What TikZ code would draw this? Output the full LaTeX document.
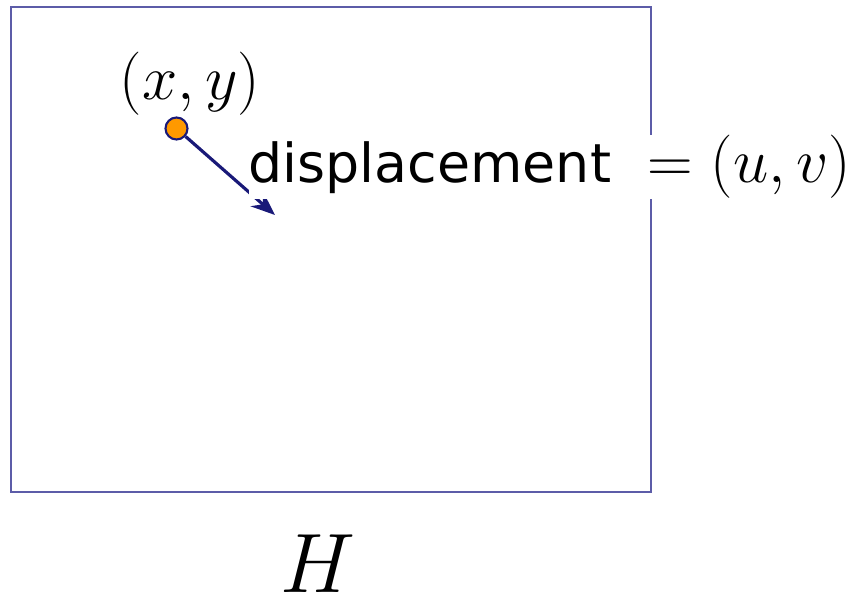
\RequirePackage{fix-cm}
\documentclass[tikz,border=0pt]{standalone}
\usepackage{fontspec}
\newfontfamily\labelfont{DejaVu Sans}
\usepackage{tikz}
\usetikzlibrary{positioning, arrows.meta}
\definecolor{frameblue}{RGB}{92,92,168}
\definecolor{arrownavy}{RGB}{25,25,120}
\definecolor{ptorange}{RGB}{255,153,0}

\begin{document}
\begin{tikzpicture}[>=Stealth,
      frame/.style={draw=frameblue, line width=0.8pt, minimum width=6.4cm,
        minimum height=4.85cm, inner sep=0pt},
      pt/.style={circle, draw=arrownavy, fill=ptorange, line width=0.6pt,
        minimum size=0.22cm, inner sep=0pt},
      lab/.style={inner sep=0pt, font=\fontsize{18}{21}\selectfont},
      disp/.style={->, arrownavy, line width=0.9pt,
        >={Stealth[length=0.24cm, width=0.19cm]}}]
    \useasboundingbox (0,0) rectangle (8.59,6);
    \node[frame] (img) at (3.31,3.505) {};
    \node[pt] (p) at (1.765,4.715) {};
    \coordinate (tip) at (2.75,3.85);
    \draw[disp] (p) -- (tip);
    \node[lab, above=0pt of p, xshift=0.135cm] (xy) {$(x,y)$};
    \node[lab, fill=white, anchor=west] (d) at (2.48,4.33)
      {{\labelfont\fontsize{15.3}{19}\selectfont displacement} ${}=(u,v)$};
    \node[font=\fontsize{24}{28}\selectfont, inner sep=0pt] (h) at (3.18,0.36) {$H$};
  \end{tikzpicture}
\end{document}
